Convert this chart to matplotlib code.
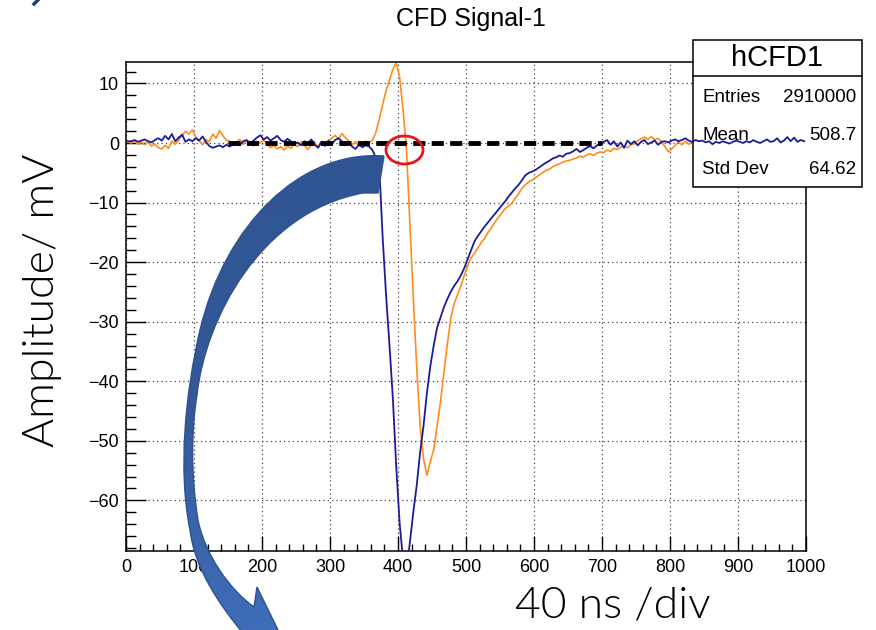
import numpy as np
import matplotlib
matplotlib.use("Agg")
import matplotlib.pyplot as plt
from matplotlib.patches import Rectangle, Ellipse, PathPatch
from matplotlib.path import Path
from matplotlib.colors import LinearSegmentedColormap
from matplotlib.ticker import MultipleLocator

# ---------------- data ----------------
title = "CFD Signal-1"
hist_name = "hCFD1"
stats_labels = ["Entries", "Mean", "Std Dev"]
stats_values = ["2910000", "508.7", "64.62"]
x_label = "40 ns /div"
y_label = "Amplitude/ mV"

bin_width = 5.0
x_ticks = [0, 100, 200, 300, 400, 500, 600, 700, 800, 900, 1000]
y_ticks = [10, 0, -10, -20, -30, -40, -50, -60]

# blue: delayed/raw signal (5 ns bins, 0..1000 ns)
blue = [
    0.3, 0.3, 0.5, 0.2, 0.4, 0.6, 0.3, 0.1, 0.5, 0.8,
    0.4, 1.2, 0.6, 1.5, 0.3, 0.9, 1.4, 0.2, 0.6, 0.3,
    0.8, 0.4, 1.1, 0.2, -0.5, -0.8, -0.6, -0.4, -0.7, -0.3,
    -0.6, -0.2, 0.1, -0.4, 0.3, 0.5, -0.2, 0.4, 0.9, 1.3,
    0.6, 1.0, 0.4, 0.8, 1.2, 0.5, 0.2, 0.7, 0.3, -0.2,
    0.1, -0.4, 0.3, -0.1, 0.6, -0.3, -0.8, 0.2, -0.5, 0.4,
    -0.2, 0.5, 0.8, 0.3, -0.4, 0.2, -0.6, -1.0, -0.3, -0.7,
    -0.4, -0.6, -1.2, -2.5, -4.0, -16.0, -25.6, -34.0, -43.0, -54.5,
    -64.0, -70.0, -72.0, -67.0, -62.0, -57.5, -52.0, -47.5, -42.0, -37.5,
    -34.0, -31.0, -29.3, -27.6, -26.2, -25.0, -24.0, -23.2, -22.2, -21.0,
    -19.5, -18.0, -16.5, -15.6, -14.8, -14.0, -13.3, -12.6, -11.9, -11.2,
    -10.5, -9.8, -9.0, -8.3, -7.6, -7.0, -6.2, -5.4, -5.0, -4.8,
    -4.5, -4.1, -3.7, -3.3, -3.0, -2.6, -2.4, -2.1, -2.3, -1.8,
    -1.7, -1.4, -1.0, -1.5, -1.2, -0.8, -0.5, -0.9, -0.4, -0.2,
    0.2, 0.5, -0.3, 0.3, -0.6, 0.1, -0.8, 0.4, -0.2, 0.3,
    -0.4, 0.2, 0.5, -0.2, 0.1, 0.4, -0.3, 0.2, 0.3, 0.1,
    0.4, 0.6, 0.3, 0.5, 0.8, 0.4, 0.2, 0.5, 0.3, 0.4,
    0.1, 0.3, -0.2, 0.2, 0.0, 0.3, 0.1, -0.1, 0.2, 0.4,
    0.2, 0.0, 0.3, 0.1, 0.5, 0.2, 0.0, 0.3, 0.6, 0.2,
    0.3, 0.8, 0.1, 0.4, 1.0, 0.3, 0.9, 0.2, 0.5, 0.3,
]

# orange: CFD (bipolar) signal
orange = [
    0.2, 0.0, 0.3, -0.2, 0.1, -0.3, 0.2, -0.5, -0.2, -0.8,
    -1.0, -0.4, -0.9, 0.3, -0.2, 0.5, 1.2, 2.0, 1.5, 2.2,
    1.0, 0.4, -0.3, 0.6, 0.2, 1.5, 0.8, 2.1, 1.2, 0.5,
    0.3, -0.4, 0.2, 0.6, -0.2, 0.4, 0.1, -0.5, 0.3, 0.0,
    0.5, -0.3, -0.8, -0.4, -1.0, -0.6, -1.2, -0.5, -0.9, -0.2,
    -0.6, 0.2, -0.4, -1.1, -0.3, 0.1, -0.7, 0.3, -0.2, 0.4,
    0.8, 1.3, 0.6, 1.6, 0.9, 0.4, -0.3, 0.2, -0.5, 0.1,
    0.3, 0.1, 0.5, 1.8, 4.0, 6.5, 8.8, 10.6, 12.4, 13.4,
    11.0, 5.5, -1.2, -13.5, -26.0, -37.5, -47.5, -53.0, -55.8, -53.5,
    -51.5, -47.5, -43.5, -38.5, -33.8, -29.5, -27.0, -25.5, -24.0, -22.2,
    -20.6, -19.3, -18.5, -17.6, -16.7, -16.0, -15.0, -14.2, -13.3, -12.5,
    -11.8, -11.0, -10.6, -10.1, -9.2, -8.5, -7.6, -7.0, -6.5, -6.2,
    -5.8, -5.4, -5.0, -4.6, -4.4, -4.0, -3.7, -3.5, -3.2, -3.0,
    -2.9, -2.7, -2.5, -2.2, -2.4, -2.0, -1.8, -2.1, -1.7, -1.5,
    -1.6, -1.2, -1.4, -0.9, -1.1, -0.7, -0.5, -0.8, -0.3, -0.1,
    0.4, 0.7, 1.0, 0.6, 1.1, 0.5, 0.8, 0.2, -0.6, -1.5,
    -1.0, -0.4, 0.2, -0.3, 0.3, -0.2, 0.1, -0.4, 0.2, 0.0,
    0.1, -0.3, 0.2, 0.4, -0.1, 0.3, -0.2, 0.1, 0.2, -0.3,
    0.2, 0.0, -0.2, 0.3, 0.1, -0.1, 0.4, 0.2, -0.2, 0.1,
    0.3, -0.1, 0.2, 0.0, -0.3, 0.2, 0.1, 0.3, -0.1, 0.2,
]

threshold_x = [150, 700]
threshold_y = 0.0
x_range = (0, 1000)
y_range = (-68.5, 13.6)

# ---------------- figure ----------------
W, H = 876, 630
fig = plt.figure(figsize=(W / 100, H / 100), dpi=100)
tick_font = ["Liberation Sans", "DejaVu Sans"]
label_font = ["Lato", "Open Sans", "DejaVu Sans"]


def fx(px):
    return px / W


def fy(py):
    return 1 - py / H


ax = fig.add_axes([fx(126), fy(551), fx(806) - fx(126), fy(62) - fy(551)])
ax.set_xlim(*x_range)
ax.set_ylim(*y_range)

centers = x_range[0] + bin_width * (np.arange(len(blue)) + 0.5)
ax.plot(centers, orange, color="#ff8c1f", lw=1.2, zorder=2)
ax.plot(centers, blue, color="#1c1c96", lw=1.3, zorder=4)
ax.plot(threshold_x, [threshold_y, threshold_y], color="black", lw=3.5,
        linestyle=(0, (2.5, 1.3)), zorder=5, solid_capstyle="butt")

# grid & ticks (ROOT style)
ax.set_xticks(x_ticks)
ax.set_yticks(y_ticks)
ax.xaxis.set_minor_locator(MultipleLocator(20))
ax.yaxis.set_minor_locator(MultipleLocator(2))
ax.grid(True, which="major", color="#444444", lw=0.9, linestyle=(0, (1, 2.5)))
ax.set_axisbelow(True)
ax.tick_params(axis="x", which="major", direction="in", length=10.5, width=1,
               pad=6, labelsize=13, top=False)
ax.tick_params(axis="x", which="minor", direction="in", length=5.3, width=1, top=False)
ax.tick_params(axis="y", which="major", direction="in", length=14.5, width=1,
               pad=5, labelsize=13, right=False)
ax.tick_params(axis="y", which="minor", direction="in", length=7.2, width=1, right=False)
for lab in ax.get_xticklabels() + ax.get_yticklabels():
    lab.set_family(tick_font)
for sp in ax.spines.values():
    sp.set_linewidth(1.1)

# stats box (drawn over orange & grid, under blue)
box = Rectangle((fx(693), fy(187)), fx(862) - fx(693), fy(40) - fy(187),
                transform=fig.transFigure, facecolor="white", edgecolor="black",
                lw=1.1, zorder=3, clip_on=False)
ax.add_artist(box)
ax.plot([fx(693), fx(862)], [fy(76), fy(76)], transform=fig.transFigure,
        color="black", lw=1.1, zorder=3.1, clip_on=False)
ax.text(fx(777), fy(58), hist_name, transform=fig.transFigure, ha="center",
        va="center", fontsize=21, family=tick_font, zorder=6)
row_y = [97, 135, 170]
for lab, val, ry in zip(stats_labels, stats_values, row_y):
    ax.text(fx(702), fy(ry), lab, transform=fig.transFigure, ha="left",
            va="center", fontsize=13.5, family=tick_font, zorder=6)
    ax.text(fx(856), fy(ry), val, transform=fig.transFigure, ha="right",
            va="center", fontsize=13.5, family=tick_font, zorder=6)

# titles / labels
fig.text(fx(471), fy(19), title, ha="center", va="center", fontsize=18,
         family=tick_font)
fig.text(fx(43), fy(300), y_label, rotation=90, ha="center", va="center",
         fontsize=32, family=label_font, fontweight=300, color="black")
fig.text(fx(613), fy(606), x_label, ha="center", va="center",
         fontsize=32, family=label_font, fontweight=300, color="black")

# ---------------- overlay: arrow + red ellipse ----------------
ov = fig.add_axes([0, 0, 1, 1])
ov.set_xlim(0, W)
ov.set_ylim(H, 0)
ov.axis("off")
ov.patch.set_alpha(0)

verts = [
    (384, 156),
    (300, 150), (225, 225), (200, 330),
    (185, 395), (178, 470), (190, 530),
    (195, 570), (220, 605), (242, 632),
    (250, 675),
    (300, 675),
    (257, 587),
    (254, 607),
    (230, 590), (205, 555), (198, 520),
    (190, 470), (192, 425), (197, 395),
    (205, 320), (260, 212), (363, 193),
    (378, 193),
    (384, 156),
]
codes = [Path.MOVETO,
         Path.CURVE4, Path.CURVE4, Path.CURVE4,
         Path.CURVE4, Path.CURVE4, Path.CURVE4,
         Path.CURVE4, Path.CURVE4, Path.CURVE4,
         Path.LINETO, Path.LINETO, Path.LINETO, Path.LINETO,
         Path.CURVE4, Path.CURVE4, Path.CURVE4,
         Path.CURVE4, Path.CURVE4, Path.CURVE4,
         Path.CURVE4, Path.CURVE4, Path.CURVE4,
         Path.LINETO, Path.CLOSEPOLY]
arrow = PathPatch(Path(verts, codes), facecolor="none", edgecolor="#2f528f",
                  lw=1.0, zorder=3)
ov.add_patch(arrow)
cmap = LinearSegmentedColormap.from_list("arr", ["#2f5592", "#33599a", "#4372c2"])
grad = np.linspace(0, 1, 256).reshape(-1, 1)
im = ov.imshow(grad, cmap=cmap, extent=[170, 400, 680, 145], aspect="auto",
               zorder=2, interpolation="bilinear")
im.set_clip_path(arrow)
ov.set_xlim(0, W)
ov.set_ylim(H, 0)

ov.add_patch(Ellipse((404.5, 150), 37, 28, facecolor="none", edgecolor="#e8141c",
                     lw=2.0, zorder=4))
ov.plot([34, 38], [4, 0], color="#1c3f80", lw=2.5, zorder=4)

fig.savefig("out.png", dpi=100)
